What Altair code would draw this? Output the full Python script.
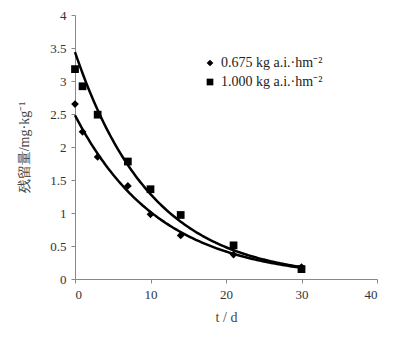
import altair as alt
import pandas as pd

days = [0, 1, 3, 7, 10, 14, 21, 30]
low_dose = [2.65, 2.23, 1.85, 1.41, 0.98, 0.66, 0.37, 0.18]
high_dose = [3.18, 2.92, 2.49, 1.78, 1.36, 0.97, 0.51, 0.15]
series_names = ["0.675 kg a.i.·hm⁻²", "1.000 kg a.i.·hm⁻²"]

rows = []
for d, a, b in zip(days, low_dose, high_dose):
    rows.append({"t": d, "c": a, "s": series_names[0]})
    rows.append({"t": d, "c": b, "s": series_names[1]})
df = pd.DataFrame(rows)

FONT = "Liberation Serif"

x_scale = alt.Scale(domain=[0, 40], nice=False)
y_scale = alt.Scale(domain=[0, 4], nice=False)
x_axis = alt.Axis(values=[0, 10, 20, 30, 40], title="t / d", grid=False, titlePadding=9)
y_axis = alt.Axis(values=[0, 0.5, 1, 1.5, 2, 2.5, 3, 3.5, 4], title="残留量/mg·kg⁻¹",
                  grid=False, titlePadding=18, format="~g")

base = alt.Chart(df)

points = base.mark_point(filled=True, opacity=1, size=60, color="black").encode(
    x=alt.X("t:Q", scale=x_scale, axis=x_axis),
    y=alt.Y("c:Q", scale=y_scale, axis=y_axis),
    shape=alt.Shape("s:N", scale=alt.Scale(domain=series_names, range=["diamond", "square"]),
                    legend=alt.Legend(title=None, orient="none", legendX=128, legendY=41,
                                      symbolFillColor="black", symbolStrokeColor="black",
                                      symbolSize=45, labelFont=FONT, labelFontSize=14,
                                      labelColor="#222", rowPadding=5)),
)

# exponential trend line (ordinary least squares on log values), computed by Vega transforms
curves = (
    base.transform_calculate(lc="log(datum.c)")
    .transform_calculate(tlc="datum.t*datum.lc", tt="datum.t*datum.t")
    .transform_joinaggregate(mt="mean(t)", ml="mean(lc)", mtl="mean(tlc)", mtt="mean(tt)", groupby=["s"])
    .transform_filter("datum.t == 0")
    .transform_calculate(b="(datum.mtl - datum.mt*datum.ml)/(datum.mtt - datum.mt*datum.mt)")
    .transform_calculate(a="datum.ml - datum.b*datum.mt")
    .transform_calculate(tx="sequence(0, 30.25, 0.25)")
    .transform_flatten(["tx"])
    .transform_calculate(cy="exp(datum.a + datum.b*datum.tx)")
    .mark_line(color="black", strokeWidth=2.5)
    .encode(
        x=alt.X("tx:Q", scale=x_scale, axis=x_axis),
        y=alt.Y("cy:Q", scale=y_scale, axis=y_axis),
        detail="s:N",
    )
)

chart = alt.layer(curves, points).properties(
    width=302, height=264,
    autosize=alt.AutoSizeParams(type="none"),
    padding={"left": 67, "top": 7, "right": 11, "bottom": 50},
).configure_view(stroke=None).configure_axis(
    labelFont=FONT, titleFont=FONT, labelFontSize=13, titleFontSize=14,
    labelColor="#333", titleColor="#444", domainColor="#888", tickColor="#888",
    tickSize=4, titleFontWeight="normal", labelPadding=5,
)

chart.save("out.html", embed_options={"renderer": "svg", "actions": False})
